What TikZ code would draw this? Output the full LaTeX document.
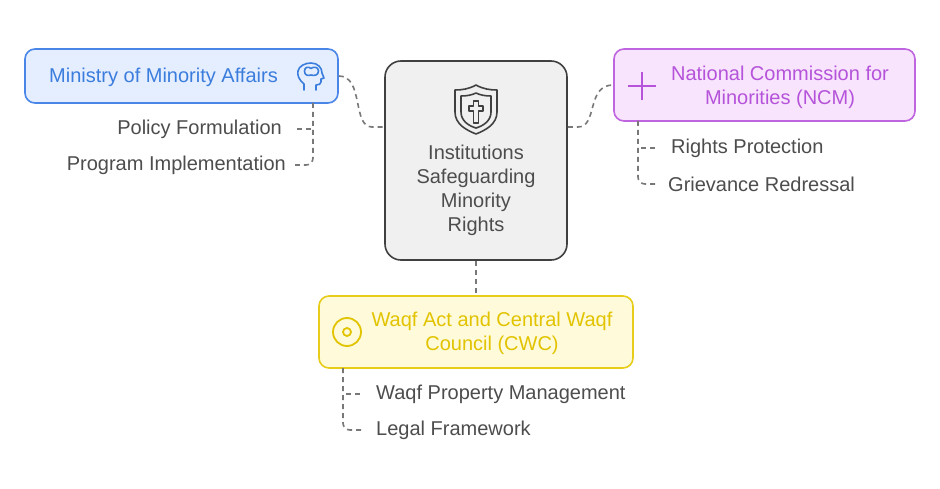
\documentclass[tikz,border=0pt]{standalone}
\usepackage{fontspec}
\setmainfont{Liberation Sans}
\usetikzlibrary{calc}
\definecolor{bluefill}{HTML}{E4EEFF}
\definecolor{blueline}{HTML}{4A86E8}
\definecolor{bluetext}{HTML}{3B7DDD}
\definecolor{purpfill}{HTML}{F8E4FC}
\definecolor{purpline}{HTML}{C065E0}
\definecolor{purptext}{HTML}{B553DA}
\definecolor{yelfill}{HTML}{FFFBDA}
\definecolor{yelline}{HTML}{E8CC1A}
\definecolor{yeltext}{HTML}{E2C300}
\definecolor{grayfill}{HTML}{F0F0F0}
\definecolor{grayline}{HTML}{404040}
\definecolor{subtext}{HTML}{4D4D4D}
\definecolor{connc}{HTML}{787878}
\tikzset{
  box/.style={draw, line width=1.6pt, rounded corners=10pt, inner sep=0pt},
  maintxt/.style={font=\fontsize{20}{24}\selectfont, align=center, inner sep=0pt},
  subtxt/.style={font=\fontsize{20}{24}\selectfont, text=subtext, inner sep=0pt},
  conn/.style={draw=connc, line width=1.6pt, dash pattern=on 5pt off 4pt},
  icon/.style={line width=1.6pt, line join=round, line cap=round},
}
\begin{document}
\begin{tikzpicture}[x=1pt,y=-1pt]
\useasboundingbox[fill=white] (0,0) rectangle (940,489);

% boxes
\node[box, fill=bluefill, draw=blueline, minimum width=313pt, minimum height=54pt] (blue) at (181.5,76) {};
\node[maintxt, text=bluetext] (bluet) at (163.5,77.5) {Ministry of Minority Affairs};

\node[box, fill=grayfill, draw=grayline, rounded corners=16pt, minimum width=182pt, minimum height=199pt] (center) at (476,160.5) {};
\node[maintxt, text=subtext, anchor=north] (centert) at (476,145) {Institutions\\Safeguarding\\Minority\\Rights};

\node[box, fill=purpfill, draw=purpline, minimum width=301pt, minimum height=72pt] (purp) at (764.5,85) {};
\node[maintxt, text=purptext] (purpt) at (780,87) {National Commission for\\Minorities (NCM)};

\node[box, fill=yelfill, draw=yelline, minimum width=314pt, minimum height=72pt] (yel) at (476,332) {};
\node[maintxt, text=yeltext] (yelt) at (492,333.5) {Waqf Act and Central Waqf\\Council (CWC)};

% sub items
\node[subtxt, anchor=east] (pf) at (282,129) {Policy Formulation};
\node[subtxt, anchor=east] (pi) at (286,165) {Program Implementation};
\node[subtxt, anchor=west] (rp) at (671,148) {Rights Protection};
\node[subtxt, anchor=west] (gr) at (668,184) {Grievance Redressal};
\node[subtxt, anchor=west] (wp) at (376,394) {Waqf Property Management};
\node[subtxt, anchor=west] (lf) at (376,430) {Legal Framework};

% attachment points on the central box
\coordinate (cl) at ($(center.west)+(0,-33.5)$);
\coordinate (cr) at ($(center.east)+(0,-33.5)$);

% main connectors
\draw[conn] (blue.east) .. controls (364,76) and (352,127) .. (372,127) -- (cl);
\draw[conn] (cr) -- (578,127) .. controls (598,127) and (586,85) .. (purp.west);
\draw[conn] (center.south) -- (yel.north);

% branch coordinates
\coordinate (bb) at (313,103);
\coordinate (pb) at (638,121);
\coordinate (yb) at (343,368);

\draw[conn, rounded corners=7pt] (bb) |- ([xshift=9pt]pi.east);
\draw[conn] ([xshift=15pt]pf.east) -- (bb |- pf.east);
\draw[conn, rounded corners=7pt] (pb) |- ([xshift=-11pt]gr.west);
\draw[conn] ([xshift=-16pt]rp.west) -- (pb |- rp.west);
\draw[conn, rounded corners=7pt] (yb) |- ([xshift=-14pt]lf.west);
\draw[conn] ([xshift=-16pt]wp.west) -- (yb |- wp.west);

% head icon (blue)
\draw[icon, draw=bluetext] (304,90) -- (304,84) .. controls (299,80) and (297,75) .. (298,71)
  .. controls (299,66) and (305,63) .. (311,63) .. controls (318,63) and (322,68) .. (322,73)
  -- (324,78) -- (321,79) -- (321,82) .. controls (321,84) and (319,85) .. (316,85) -- (316,90);
\draw[icon, draw=bluetext] (304.5,71) .. controls (304.5,66.5) and (309,66.5) .. (311,68.5)
  .. controls (313,66.5) and (318.5,66.5) .. (318.5,71) .. controls (318.5,75.5) and (314,76) .. (311,75)
  .. controls (308,76) and (304.5,75.5) .. (304.5,71) -- cycle;

% shield icon
\draw[icon, draw=grayline] (455,90) -- (455,112) .. controls (455,124) and (466,130) .. (476,134)
  .. controls (486,130) and (497,124) .. (497,112) -- (497,90)
  .. controls (490,90) and (483,89) .. (476,85) .. controls (469,89) and (462,90) .. (455,90) -- cycle;
\draw[icon, draw=grayline] (461,96) -- (461,112) .. controls (461,121) and (469,126) .. (476,128)
  .. controls (483,126) and (491,121) .. (491,112) -- (491,96)
  .. controls (485,96) and (480,95) .. (476,93) .. controls (472,95) and (467,96) .. (461,96) -- cycle;
\draw[icon, draw=grayline, line width=1.3pt] (473.5,101) -- (478.5,101) -- (478.5,106) -- (483,106) -- (483,111)
  -- (478.5,111) -- (478.5,123) -- (473.5,123) -- (473.5,111) -- (469,111) -- (469,106) -- (473.5,106) -- cycle;

% plus icon
\draw[icon, draw=purptext, line cap=butt] (628,86) -- (656,86);
\draw[icon, draw=purptext, line cap=butt] (642,72) -- (642,100);

% target icon
\draw[icon, draw=yeltext, line width=1.8pt] (347,332) circle[radius=14pt];
\draw[icon, draw=yeltext, line width=1.8pt] (347,332) circle[radius=4pt];
\end{tikzpicture}
\end{document}
